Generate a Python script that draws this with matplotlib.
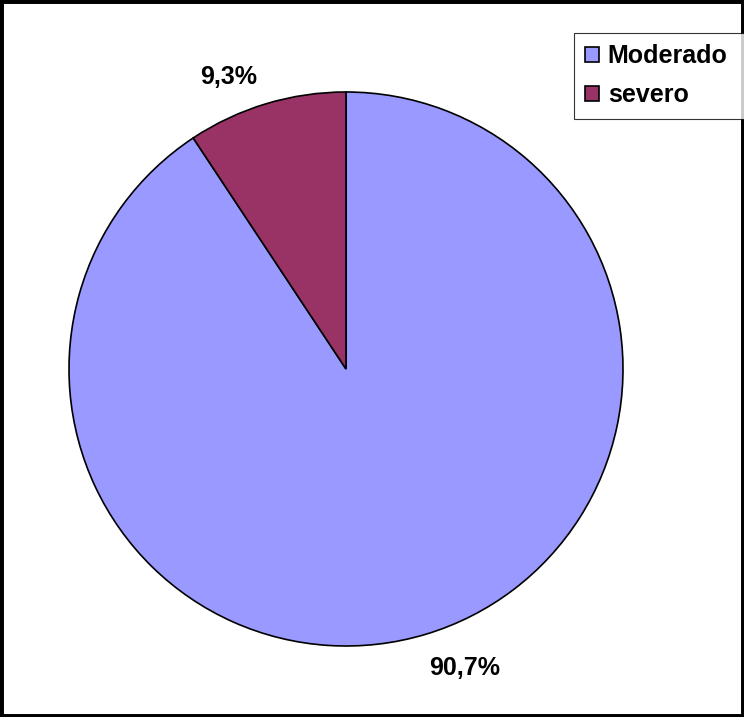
import matplotlib.pyplot as plt
from matplotlib.patches import Rectangle

# data
labels = ['Moderado', 'severo']
values = [90.7, 9.3]
colors = ['#9999FF', '#993366']

plt.rcParams['font.family'] = ['Liberation Sans', 'DejaVu Sans']

W, H = 744, 717
fig = plt.figure(figsize=(W / 100, H / 100), dpi=100)

# pie axes: centre (346,369), radius 277 px
cx, cy, r = 346, 369, 277
ax = fig.add_axes([(cx - r) / W, (H - cy - r) / H, 2 * r / W, 2 * r / H])
wedges, texts, autotexts = ax.pie(
    values, colors=colors, startangle=90, counterclock=False,
    wedgeprops=dict(edgecolor='black', linewidth=1.2),
    autopct=lambda p: f'{p:.1f}%'.replace('.', ','), pctdistance=1.15,
    textprops=dict(fontsize=18, fontweight='bold', color='black'))
ax.set_xlim(-1, 1)
ax.set_ylim(-1, 1)
ax.set_aspect('equal')

# nudge labels to match the reference placement
autotexts[0].set_position((0.43, -1.08))
autotexts[1].set_position((-0.425, 1.055))

# legend box runs into the right frame edge
leg = fig.legend(wedges, labels, loc='upper left',
                 bbox_to_anchor=(574 / W, 1 - 33 / H, 172 / W, 0),
                 mode='expand',
                 frameon=True, fancybox=False, edgecolor='black',
                 prop=dict(size=18, weight='bold'),
                 handlelength=0.55, handleheight=0.55, handletextpad=0.35,
                 labelspacing=0.6, borderpad=0.45, borderaxespad=0)
leg.get_frame().set_linewidth(0.8)

# outer frame
fig.patches.append(Rectangle((0, 0), 1, 1, transform=fig.transFigure,
                             fill=False, edgecolor='black', linewidth=5))

fig.savefig('out.png', dpi=100)
